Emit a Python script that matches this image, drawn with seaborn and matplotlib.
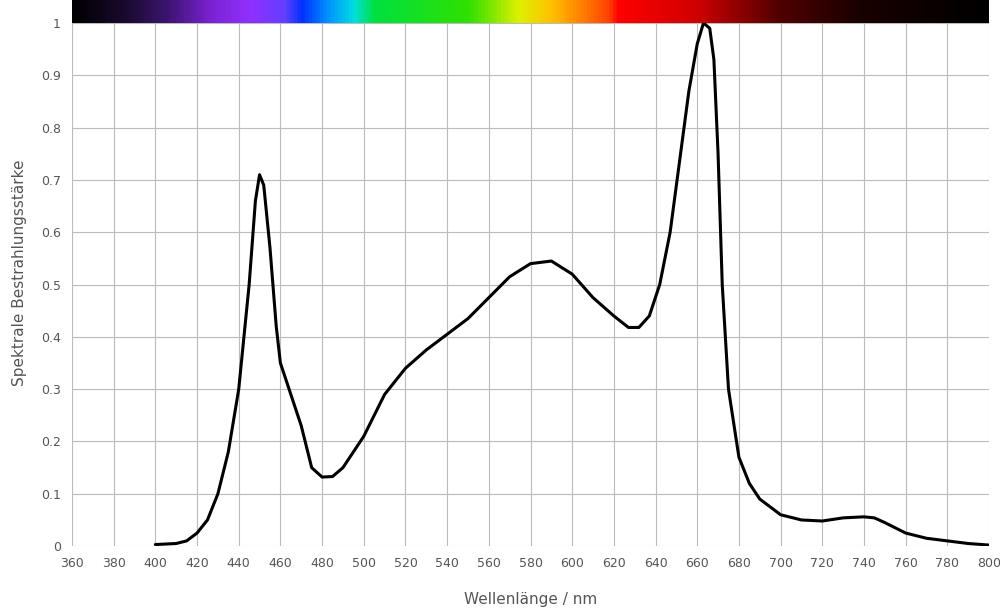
import numpy as np
import pandas as pd
import seaborn as sns
import matplotlib.pyplot as plt
from matplotlib.colors import LinearSegmentedColormap

wavelength = [400,405,410,415,420,425,430,435,440,445,448,450,452,455,458,460,465,470,475,480,485,490,500,510,520,530,540,550,560,570,580,590,600,610,620,627,632,637,642,647,652,656,660,663,666,668,670,672,675,680,685,690,700,710,720,730,740,745,750,760,770,780,790,800]
irradiance = [0.003,0.004,0.005,0.01,0.025,0.05,0.1,0.18,0.3,0.5,0.66,0.71,0.69,0.57,0.42,0.35,0.29,0.23,0.15,0.132,0.133,0.15,0.21,0.29,0.34,0.375,0.405,0.435,0.475,0.515,0.54,0.545,0.52,0.475,0.44,0.418,0.418,0.44,0.5,0.6,0.75,0.87,0.96,1.0,0.99,0.93,0.75,0.5,0.3,0.17,0.12,0.09,0.06,0.05,0.048,0.054,0.056,0.054,0.045,0.025,0.015,0.01,0.005,0.002]

spec_nm = [360,385,405,425,445,462,470,482,495,505,550,575,590,605,618,622,660,700,740,800]
spec_col = ['#000000','#1a0a30','#3c1470','#7a22d0','#9030ff','#6040ff','#0030ff','#0090ff','#00e0e0','#00e040','#30e000','#e0f000','#ffc000','#ff8000','#ff4000','#ff0000','#d00000','#500000','#180000','#000000']

sns.set_theme(style="white")
plt.rcParams['font.family'] = ['DejaVu Sans']
fig = plt.figure(figsize=(10, 6.15), dpi=100)
ax = fig.add_axes([0.072, 0.112, 0.917, 0.888])

df = pd.DataFrame({"wl": wavelength, "v": irradiance})
sns.lineplot(data=df, x="wl", y="v", ax=ax, color="black", lw=2.2,
             solid_joinstyle="round", solid_capstyle="round")

pos = [(w - 360) / 440 for w in spec_nm]
cmap = LinearSegmentedColormap.from_list("spec", list(zip(pos, spec_col)))
grad = np.linspace(0, 1, 500).reshape(1, -1)
ax.imshow(grad, cmap=cmap, aspect='auto', extent=[360, 800, 1, 1.044], zorder=3)

ax.set_xlim(360, 800)
ax.set_ylim(0, 1.044)
ax.set_xticks(range(360, 801, 20))
yt = [i / 10 for i in range(11)]
ax.set_yticks(yt)
ax.set_yticklabels(["0"] + [f"{v:.1f}" for v in yt[1:-1]] + ["1"])
ax.grid(True, color="#bbbbbb", lw=0.8)
for s in ax.spines.values():
    s.set_visible(False)
ax.tick_params(colors="#555555", labelsize=9, length=0)
ax.tick_params(axis="x", pad=8)
ax.tick_params(axis="y", pad=8)
ax.set_xlabel("Wellenlänge / nm", color="#555555", fontsize=11, labelpad=16)
ax.set_ylabel("Spektrale Bestrahlungsstärke", color="#555555", fontsize=11, labelpad=10)
fig.savefig("out.png")
